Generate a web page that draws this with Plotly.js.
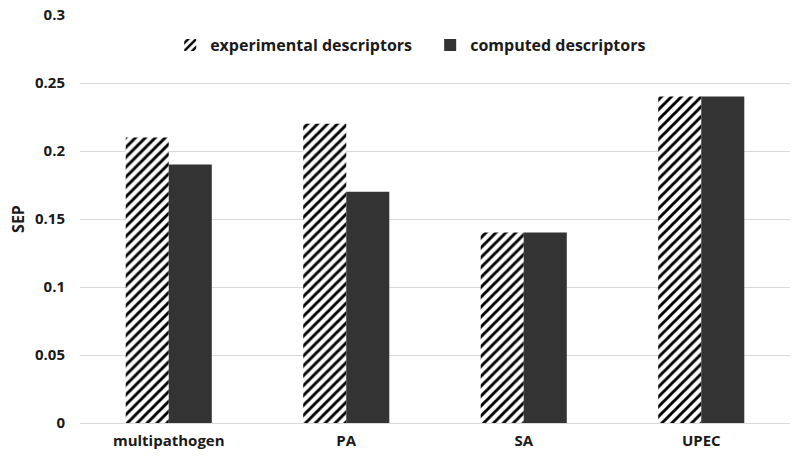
<!DOCTYPE html>
<html>
<head>
<meta charset="utf-8">
<script src="https://cdn.plot.ly/plotly-3.0.1.min.js"></script>
<style>html,body{margin:0;padding:0;background:#fff;}#chart{width:800px;height:465px;}</style>
</head>
<body>
<div id="chart"></div>
<script>
const categories = ["multipathogen", "PA", "SA", "UPEC"];
const experimental = [0.21, 0.22, 0.14, 0.24];
const computed = [0.19, 0.17, 0.14, 0.24];
const seriesNames = ["experimental descriptors", "computed descriptors"];
const yTicks = [0, 0.05, 0.1, 0.15, 0.2, 0.25, 0.3];
const yTickText = ["0", "0.05", "0.1", "0.15", "0.2", "0.25", "0.3"];

const fontFam = "Open Sans, Noto Sans, sans-serif";
const data = [
  {
    type: "bar", name: seriesNames[0], x: categories, y: experimental,
    marker: {color: "#ffffff", line: {width: 0},
      pattern: {shape: "/", fgcolor: "#000000", bgcolor: "#ffffff", size: 7, solidity: 0.42}},
    hoverinfo: "skip"
  },
  {
    type: "bar", name: seriesNames[1], x: categories, y: computed,
    marker: {color: "#333333", line: {width: 0}},
    hoverinfo: "skip"
  }
];
const layout = {
  width: 800, height: 465,
  margin: {l: 80, r: 10, t: 15, b: 42, autoexpand: false},
  paper_bgcolor: "#ffffff", plot_bgcolor: "#ffffff",
  font: {family: fontFam, color: "#222222", size: 15, weight: "bold"},
  barmode: "group", bargap: 0.515, bargroupgap: 0,
  showlegend: true,
  legend: {orientation: "h", x: 0.127, xanchor: "left", y: 0.926, yanchor: "middle",
    entrywidth: 215, entrywidthmode: "pixels",
    font: {family: fontFam, size: 16, color: "#1a1a1a", weight: "bold"},
    itemwidth: 30, traceorder: "normal", bgcolor: "rgba(0,0,0,0)"},
  xaxis: {type: "category", showgrid: false, showline: false, zeroline: false, ticks: "",
    ticklabelstandoff: 7,
    tickfont: {family: fontFam, size: 15, color: "#1a1a1a", weight: "bold"}},
  yaxis: {range: [0, 0.3], tickvals: yTicks, ticktext: yTickText,
    showgrid: true, gridcolor: "#d9d9d9", gridwidth: 1,
    zeroline: true, zerolinecolor: "#d9d9d9", zerolinewidth: 1,
    showline: false, ticks: "", ticklabelstandoff: 14,
    tickfont: {family: fontFam, size: 15, color: "#1a1a1a", weight: "bold"},
    title: {text: "SEP", standoff: 6, font: {family: fontFam, size: 16, color: "#1a1a1a", weight: "bold"}}}
};
Plotly.newPlot("chart", data, layout, {staticPlot: true, displayModeBar: false});
</script>
</body>
</html>
